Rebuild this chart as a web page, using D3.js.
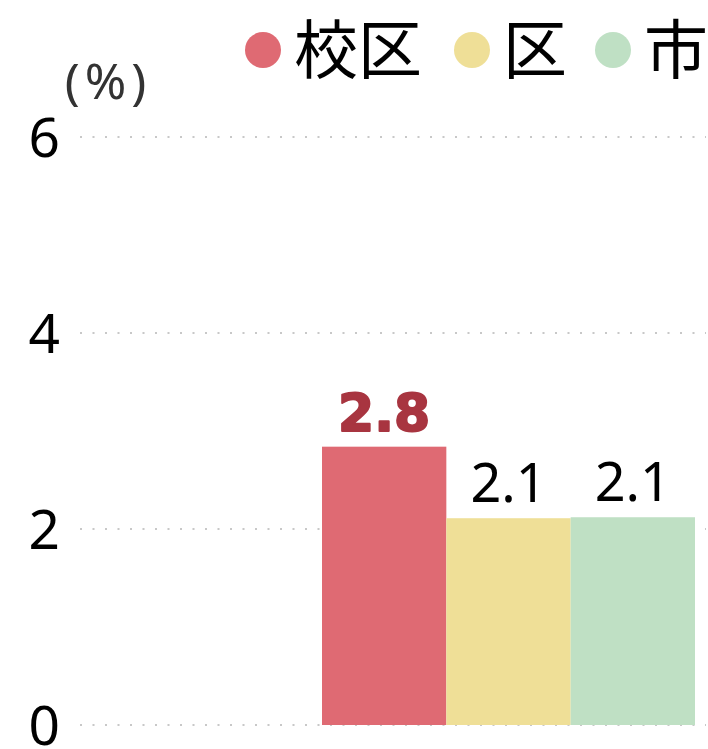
<!DOCTYPE html>
<html>
<head>
<meta charset="utf-8">
<script src="https://cdn.jsdelivr.net/npm/d3@7"></script>
<style>
  body { margin: 0; background: #fff; }
  text { font-family: "Noto Sans", "Noto Sans CJK JP", sans-serif; }
</style>
</head>
<body>
<script>
// data
const series = ['校区', '区', '市'];
const values = [2.84, 2.11, 2.12];
const labels = ['2.8', '2.1', '2.1'];
const colors = ['#df6a73', '#efdf97', '#bfe0c4'];
const yTicks = [0, 2, 4, 6];
const unitLabel = '(%)';

const width = 708, height = 749;
const svg = d3.select('body').append('svg')
    .attr('width', width)
    .attr('height', height);

const y = d3.scaleLinear().domain([0, 6]).range([725, 137]);
const x = d3.scaleBand().domain(series).range([322, 695]).padding(0);

// dotted grid lines
svg.append('g')
    .selectAll('line')
    .data(yTicks)
    .join('line')
    .attr('x1', 80)
    .attr('x2', 706)
    .attr('y1', d => y(d))
    .attr('y2', d => y(d))
    .attr('stroke', '#c8c8c8')
    .attr('stroke-width', 2)
    .attr('stroke-dasharray', '2 10.5');

// y tick labels
svg.append('g')
    .selectAll('text')
    .data(yTicks)
    .join('text')
    .attr('x', 60)
    .attr('y', d => y(d))
    .attr('dy', '0.36em')
    .attr('text-anchor', 'end')
    .attr('font-size', 55)
    .attr('fill', '#000')
    .text(d => d);

svg.append('text')
    .attr('x', 108)
    .attr('y', 99)
    .attr('text-anchor', 'middle')
    .attr('font-size', 50)
    .attr('letter-spacing', 5)
    .style('font-family', '"Noto Sans", sans-serif')
    .attr('fill', '#333')
    .text(unitLabel);

// bars
svg.append('g')
    .selectAll('rect')
    .data(values)
    .join('rect')
    .attr('x', (d, i) => x(series[i]))
    .attr('width', x.bandwidth())
    .attr('y', d => y(d))
    .attr('height', d => y(0) - y(d))
    .attr('fill', (d, i) => colors[i]);

// value labels
const valueLabels = svg.append('g')
    .selectAll('text')
    .data(values)
    .join('text')
    .attr('x', (d, i) => x(series[i]) + x.bandwidth() / 2)
    .attr('y', d => y(d) - 16)
    .attr('text-anchor', 'middle')
    .attr('font-size', (d, i) => i === 0 ? 52 : 54)
    .attr('fill', (d, i) => i === 0 ? '#a83540' : '#000')
    .text((d, i) => labels[i]);

// highlighted value is drawn heavier
valueLabels.filter((d, i) => i === 0)
    .style('font-family', '"DejaVu Sans", sans-serif')
    .attr('font-weight', 'bold')
    .attr('stroke', '#a83540')
    .attr('stroke-width', 2)
    .attr('stroke-linejoin', 'round');

// legend
const legendX = [263, 472, 613];
const legend = svg.append('g')
    .selectAll('g')
    .data(series)
    .join('g')
    .attr('transform', (d, i) => `translate(${legendX[i]},50)`);
legend.append('circle')
    .attr('r', 18)
    .attr('fill', (d, i) => colors[i]);
legend.append('text')
    .attr('x', 31)
    .attr('dy', '0.36em')
    .attr('font-size', 64)
    .style('font-family', '"Noto Sans CJK JP", sans-serif')
    .attr('fill', '#000')
    .text(d => d);
</script>
</body>
</html>
